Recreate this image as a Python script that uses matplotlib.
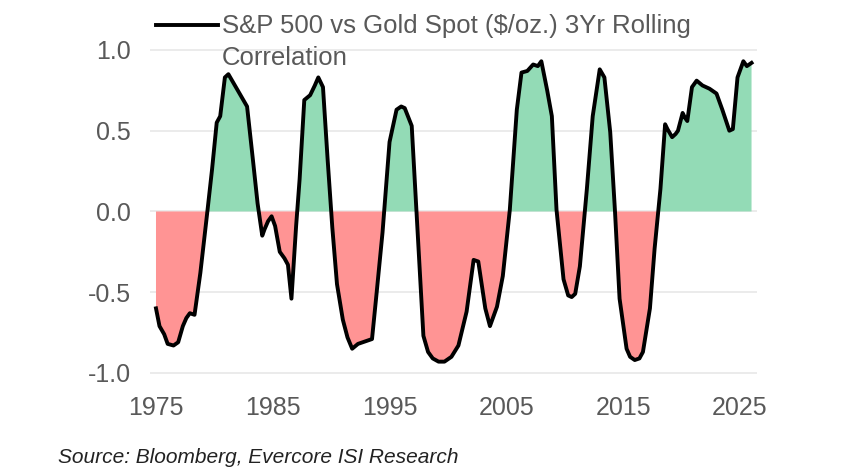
import matplotlib
matplotlib.use("Agg")
import matplotlib.pyplot as plt
from matplotlib.lines import Line2D
import numpy as np

# S&P 500 vs Gold 3yr rolling correlation
years = [1975.0, 1975.3, 1975.7, 1976.0, 1976.5, 1976.9, 1977.3, 1977.6, 1977.9, 1978.3,
         1978.8, 1979.4, 1979.8, 1980.2, 1980.5, 1980.9, 1981.2, 1981.6, 1982.0, 1982.4,
         1982.8, 1983.3, 1983.7, 1984.1, 1984.3, 1984.6, 1984.9, 1985.2, 1985.6, 1986.0,
         1986.3, 1986.6, 1987.0, 1987.3, 1987.7, 1988.2, 1988.6, 1988.9, 1989.3, 1989.7,
         1990.1, 1990.5, 1991.0, 1991.4, 1991.8, 1992.3, 1992.7, 1993.1, 1993.5, 1993.9,
         1994.4, 1995.0, 1995.6, 1996.0, 1996.3, 1996.9, 1997.3, 1997.9, 1998.3, 1998.7,
         1999.2, 1999.7, 2000.3, 2000.9, 2001.6, 2002.2, 2002.6, 2003.2, 2003.6, 2004.2,
         2004.7, 2005.3, 2005.9, 2006.3, 2006.8, 2007.3, 2007.7, 2008.0, 2008.5, 2008.9,
         2009.3, 2009.9, 2010.3, 2010.6, 2010.9, 2011.3, 2011.9, 2012.4, 2013.0, 2013.4,
         2013.9, 2014.3, 2014.7, 2015.3, 2015.6, 2016.0, 2016.4, 2016.7, 2017.3, 2017.7,
         2018.2, 2018.6, 2018.8, 2019.2, 2019.5, 2019.7, 2020.1, 2020.3, 2020.5, 2020.9,
         2021.3, 2021.8, 2022.1, 2022.4, 2023.0, 2023.5, 2024.1, 2024.4, 2024.8, 2025.3,
         2025.6, 2026.0]
corr = [-0.60, -0.71, -0.76, -0.82, -0.83, -0.81, -0.71, -0.66, -0.63, -0.64,
        -0.38, 0.00, 0.26, 0.55, 0.59, 0.83, 0.85, 0.80, 0.75, 0.70,
        0.65, 0.32, 0.05, -0.15, -0.11, -0.06, -0.03, -0.09, -0.25, -0.29,
        -0.33, -0.54, -0.09, 0.20, 0.69, 0.72, 0.78, 0.83, 0.77, 0.32,
        -0.10, -0.45, -0.67, -0.78, -0.85, -0.82, -0.81, -0.80, -0.79, -0.50,
        -0.13, 0.43, 0.63, 0.65, 0.64, 0.53, 0.01, -0.77, -0.87, -0.91,
        -0.93, -0.93, -0.90, -0.83, -0.62, -0.30, -0.31, -0.60, -0.71, -0.59,
        -0.40, 0.01, 0.63, 0.86, 0.87, 0.91, 0.90, 0.93, 0.75, 0.59,
        0.01, -0.42, -0.52, -0.53, -0.51, -0.34, 0.14, 0.59, 0.88, 0.83,
        0.49, 0.01, -0.54, -0.85, -0.90, -0.92, -0.91, -0.87, -0.60, -0.23,
        0.14, 0.54, 0.51, 0.46, 0.48, 0.50, 0.61, 0.58, 0.56, 0.77,
        0.81, 0.78, 0.77, 0.76, 0.73, 0.63, 0.50, 0.51, 0.83, 0.93,
        0.90, 0.92]

xticks = [1975, 1985, 1995, 2005, 2015, 2025]
yticks = [-1.0, -0.5, 0.0, 0.5, 1.0]

GREEN, RED, INK, GRID = "#93dbb6", "#ff9494", "#595959", "#e8e8e8"

plt.rcParams["font.family"] = ["Liberation Sans", "DejaVu Sans"]

fig = plt.figure(figsize=(8.41, 4.72), dpi=100)
ax = fig.add_axes([0.1784, 0.203, 0.7216, 0.698])

x = np.array(years)
y = np.array(corr)
ax.fill_between(x, 0, y, where=y >= 0, interpolate=True, color=GREEN, lw=0, zorder=2)
ax.fill_between(x, 0, y, where=y <= 0, interpolate=True, color=RED, lw=0, zorder=2)
ax.plot(x, y, color="black", lw=2.8, solid_joinstyle="round", zorder=3)

ax.set_xlim(1974.49, 2026.46)
ax.set_ylim(-1.02, 1.02)
ax.set_xticks(xticks)
ax.set_xticklabels([str(t) for t in xticks])
ax.set_yticks(yticks)
ax.set_yticklabels([f"{t:.1f}" for t in yticks])
ax.tick_params(length=0, labelsize=18, colors=INK)
ax.tick_params(axis="y", pad=14)
ax.tick_params(axis="x", pad=14)
for s in ax.spines.values():
    s.set_visible(False)
ax.grid(axis="y", color=GRID, lw=1.2, zorder=0)
ax.set_axisbelow(True)

# legend drawn by hand so the line sits beside the first text row
fig.add_artist(Line2D([0.186, 0.259], [0.947, 0.947], color="black", lw=2.8,
                      transform=fig.transFigure))
fig.text(0.264, 0.930, "S&P 500 vs Gold Spot ($/oz.) 3Yr Rolling",
         ha="left", va="baseline", fontsize=18.5, color=INK)
fig.text(0.264, 0.862, "Correlation",
         ha="left", va="baseline", fontsize=18.5, color=INK)

fig.text(0.069, 0.019, "Source: Bloomberg, Evercore ISI Research",
         ha="left", va="baseline", fontsize=15, style="italic", color="#222222")

fig.savefig("out.png", dpi=100)
